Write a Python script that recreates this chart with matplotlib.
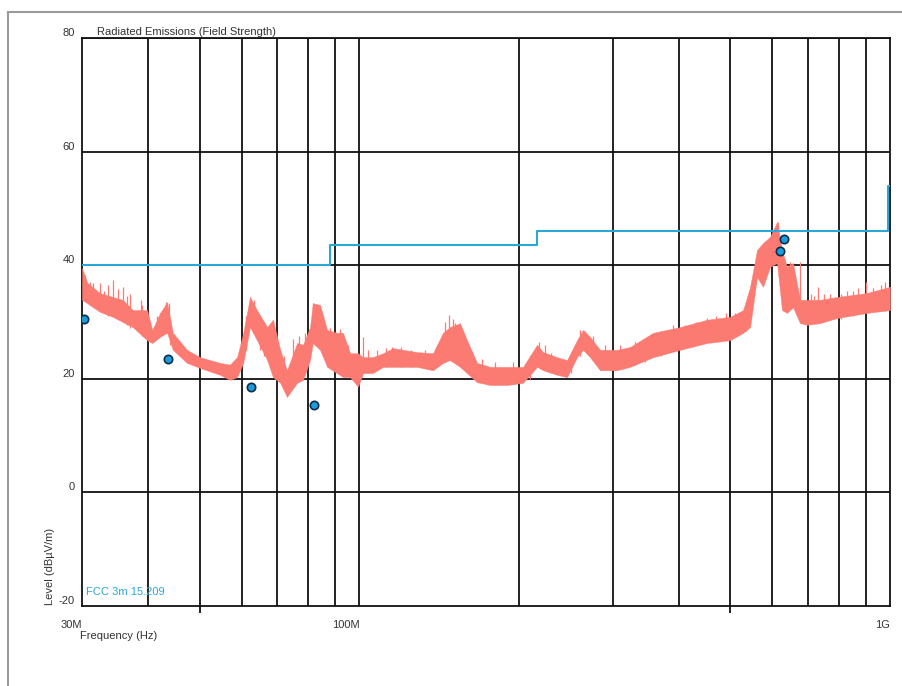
import matplotlib
matplotlib.use('Agg')
import matplotlib.pyplot as plt
from matplotlib.lines import Line2D
from matplotlib.ticker import FixedLocator, NullFormatter

plt.rcParams['font.family'] = ['Liberation Sans', 'DejaVu Sans']
plt.rcParams['axes.unicode_minus'] = False

# measured trace envelope (MHz, dBuV/m)
freq = [30.0, 30.7, 32.4, 34.3, 35.8, 37.4, 39.8, 40.7, 42.1, 43.4, 44.5, 47.3,
        50.1, 54.6, 57.0, 58.8, 60.4, 62.2, 64.1, 67.0, 68.7, 70.9, 73.0, 76.3,
        78.3, 80.7, 81.7, 84.3, 86.9, 90.7, 93.1, 96.0, 99.4, 101.6, 106.0,
        110.8, 115.7, 128.4, 137.6, 143.7, 148.1, 154.7, 159.5, 166.6, 176.3,
        189.7, 203.4, 216.2, 221.9, 235.8, 246.2, 257.1, 263.9, 272.0, 284.1,
        305.8, 323.7, 357.7, 402.1, 452.1, 499.5, 528.6, 544.9, 561.5, 576.3,
        594.1, 612.4, 625.7, 639.5, 656.5, 676.7, 697.8, 738.0, 794.7, 905.0,
        1000.0]
level_low = [33.9, 33.3, 31.8, 30.9, 30.0, 29.1, 26.8, 26.3, 27.4, 28.1, 25.1, 22.8,
             21.9, 20.7, 19.8, 20.3, 22.8, 29.1, 26.8, 23.3, 20.3, 19.3, 16.8, 19.3,
             19.8, 23.3, 26.3, 25.1, 22.1, 21.0, 20.3, 20.3, 18.6, 21.0, 21.0,
             22.1, 22.1, 22.1, 21.5, 22.8, 23.3, 22.1, 21.0, 19.4, 18.9,
             18.9, 19.3, 22.1, 21.5, 20.7, 20.3, 23.8, 25.1, 23.8, 21.5,
             21.5, 22.1, 23.8, 25.1, 26.3, 26.8, 28.1, 29.1, 37.9, 36.2,
             39.7, 40.4, 32.1, 31.6, 32.6, 29.8, 29.5, 29.8, 30.7, 31.6,
             32.1]
level_high = [39.5, 36.9, 35.1, 34.4, 33.9, 32.1, 32.1, 28.6, 31.6, 33.5, 28.1, 25.1,
              23.8, 22.8, 22.5, 23.8, 28.1, 34.4, 32.1, 29.1, 30.4, 25.1, 21.5, 26.3,
              26.0, 29.1, 33.3, 33.0, 28.6, 28.1, 28.1, 24.5, 24.5, 23.8, 23.8,
              24.5, 25.4, 24.7, 24.5, 28.1, 29.1, 29.8, 26.8, 22.8, 22.1,
              22.1, 22.1, 26.0, 24.7, 23.8, 23.3, 26.8, 28.6, 27.4, 25.1,
              25.1, 25.6, 28.1, 29.1, 30.4, 30.9, 32.1, 36.2, 42.7, 43.9,
              45.0, 47.6, 42.7, 39.7, 40.4, 33.9, 33.9, 33.9, 34.4, 35.1,
              36.2]

# single spikes sticking out of the envelope
spike_f = [30.4, 31.0, 31.5, 32.4, 33.0, 33.6, 34.3, 35.0, 35.8, 36.5, 37.0,
           38.8, 39.0, 41.5, 42.1, 43.2, 43.8, 44.0, 61.0, 62.2, 63.3, 65.0,
           66.0, 68.7, 69.5, 72.0, 75.0, 77.0, 79.0, 81.7, 82.5, 83.9, 85.5,
           88.0, 92.0, 95.0, 101.6, 104.0, 108.0, 112.0, 115.2, 120.0, 125.0,
           133.0, 140.0, 145.0, 147.5, 150.0, 151.4, 157.0, 170.0, 180.0,
           195.0, 210.0, 218.0, 223.8, 230.0, 250.0, 260.5, 266.0, 275.0,
           290.0, 310.0, 330.0, 345.0, 370.0, 390.0, 410.0, 430.0, 452.1,
           470.0, 490.0, 510.0, 535.0, 615.0, 648.0, 676.7, 710.0, 720.0,
           731.7, 750.0, 770.0, 810.0, 830.0, 850.0, 870.0, 901.0, 930.0,
           960.0, 980.0]
spike_lo = [34.0, 33.0, 33.5, 32.0, 31.5, 31.0, 31.0, 30.5, 30.5, 29.5, 29.0,
            28.0, 27.5, 27.0, 27.5, 28.5, 28.5, 26.0, 25.0, 29.5, 28.0, 25.0,
            24.0, 22.0, 21.0, 19.0, 20.0, 20.0, 21.0, 27.0, 26.0, 26.0, 24.0,
            22.0, 21.0, 20.5, 22.0, 21.5, 21.5, 22.0, 22.5, 22.0, 22.0,
            22.0, 22.0, 23.0, 24.0, 23.0, 23.0, 22.0, 19.5, 19.0, 19.0,
            20.0, 22.0, 22.0, 21.0, 21.0, 24.0, 25.0, 24.0, 22.0, 22.0,
            22.5, 23.0, 24.0, 25.0, 25.5, 26.0, 27.0, 26.5, 27.0, 27.5,
            28.5, 40.0, 33.0, 30.0, 30.0, 30.0, 30.0, 30.5, 30.5, 30.5,
            31.0, 31.0, 31.5, 32.0, 32.0, 32.0, 32.0]
spike_hi = [38.3, 37.0, 36.9, 36.9, 35.5, 36.5, 37.4, 35.8, 36.2, 34.5, 35.0,
            33.9, 33.0, 31.0, 31.6, 33.5, 33.3, 30.5, 31.0, 34.4, 33.9, 31.0,
            30.0, 30.4, 28.0, 24.0, 27.0, 27.5, 28.0, 33.3, 32.0, 32.8, 31.0,
            29.0, 28.8, 26.0, 27.4, 25.0, 25.0, 25.5, 25.6, 25.6, 25.0,
            25.0, 26.0, 30.0, 31.2, 30.5, 29.8, 28.0, 23.5, 23.0, 23.0,
            24.0, 26.5, 26.0, 24.5, 24.0, 28.6, 28.5, 27.5, 26.0, 26.0,
            26.5, 27.0, 28.5, 29.5, 29.5, 30.0, 30.7, 31.0, 31.5, 31.5,
            33.0, 47.6, 40.6, 40.6, 35.0, 34.5, 36.2, 35.0, 35.0, 35.0,
            35.5, 35.5, 36.0, 37.0, 36.0, 36.5, 37.0]

# FCC 3m 15.209 limit (steps)
limit_f = [30, 88, 88, 216, 216, 990, 990, 1000]
limit_db = [40, 40, 43.5, 43.5, 46, 46, 54, 54]

# final measurement points
peak_f = [30.3, 43.5, 62.6, 82.2, 620.0, 632.0]
peak_db = [30.5, 23.5, 18.6, 15.4, 42.5, 44.6]

trace_color = '#fb7a72'
blue = '#2aa7d9'

fig = plt.figure(figsize=(9.02, 6.86), dpi=100)
ax = fig.add_axes([82 / 902, 1 - 606 / 686, 808 / 902, 568 / 686])

ax.fill_between(freq, level_low, level_high, color=trace_color, lw=0.3, zorder=3)
ax.vlines(spike_f, spike_lo, spike_hi, color=trace_color, lw=0.9, zorder=3)
ax.plot(limit_f, limit_db, color=blue, lw=1.5, zorder=4)
ax.plot(peak_f, peak_db, 'o', ms=6, mfc='#1a9edb', mec='#0d2b4c', mew=1.2,
        zorder=5)

ax.set_xscale('log')
ax.set_xlim(30, 1000)
ax.set_ylim(-20, 80)

grid_f = [40, 50, 60, 70, 80, 90, 100, 200, 300, 400, 500, 600, 700, 800, 900]
for f in grid_f:
    ax.axvline(f, color='#111111', lw=1.3, zorder=2)
for y in [0, 20, 40, 60, 80]:
    ax.axhline(y, color='#111111', lw=1.3, zorder=2)

ax.xaxis.set_major_locator(FixedLocator([30, 100, 1000]))
ax.set_xticklabels(['30M', '100M', '1G'])
ax.xaxis.set_minor_locator(FixedLocator([50, 100, 500]))
ax.xaxis.set_minor_formatter(NullFormatter())
ax.tick_params(axis='x', which='major', length=0, pad=10, labelsize=8,
               labelcolor='#333333')
ax.tick_params(axis='x', which='minor', length=5, width=1.3, color='#111111')
for lbl in ax.get_xticklabels():
    lbl.set_horizontalalignment('right')

ax.set_yticks([-20, 0, 20, 40, 60, 80])
ax.tick_params(axis='y', length=0, pad=5, labelsize=8, labelcolor='#333333')
for lbl in ax.get_yticklabels():
    lbl.set_verticalalignment('bottom')

for s in ax.spines.values():
    s.set_color('#111111')
    s.set_linewidth(1.3)

fig.text(97 / 902, 1 - 32 / 686, 'Radiated Emissions (Field Strength)',
         fontsize=8, color='#333333', va='center', ha='left')
fig.text(80 / 902, 1 - 636 / 686, 'Frequency (Hz)', fontsize=8,
         color='#333333', va='center', ha='left')
fig.text(50 / 902, 1 - 605 / 686, 'Level (dBµV/m)', fontsize=8,
         color='#333333', rotation=90, va='bottom', ha='center')
ax.text(0.0047, 0.015, 'FCC 3m 15.209', transform=ax.transAxes,
        fontsize=8, color=blue, va='bottom', ha='left')

# page frame
fig.add_artist(Line2D([8 / 902, 8 / 902], [0, 1 - 12 / 686],
                      color='#9a9a9a', lw=1.5))
fig.add_artist(Line2D([8 / 902, 1], [1 - 12 / 686, 1 - 12 / 686],
                      color='#9a9a9a', lw=1.5))

fig.savefig('out.png', dpi=100)
